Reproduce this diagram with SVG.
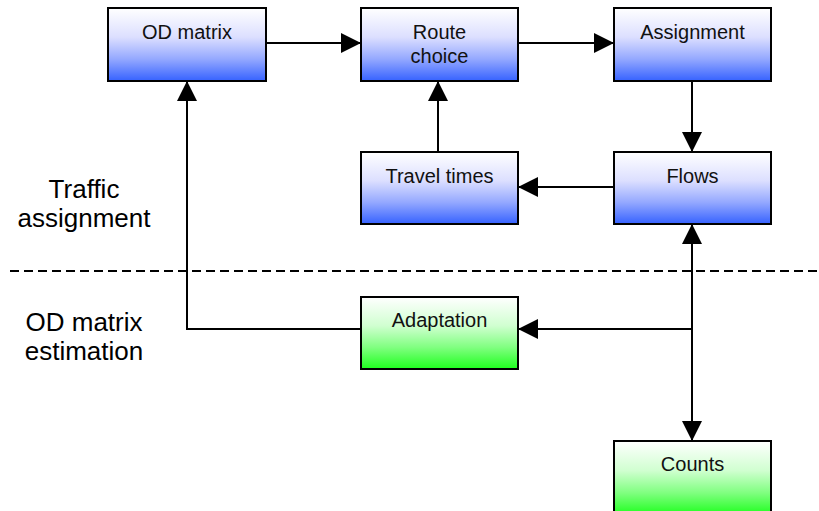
<svg xmlns="http://www.w3.org/2000/svg" width="819" height="511" viewBox="0 0 819 511">
  <defs>
    <linearGradient id="blueFill" x1="0" y1="0" x2="0" y2="1">
      <stop offset="0" stop-color="#ffffff"/>
      <stop offset="0.4" stop-color="#dcdfff"/>
      <stop offset="0.7" stop-color="#94a8ff"/>
      <stop offset="1" stop-color="#3662ff"/>
    </linearGradient>
    <linearGradient id="greenFill" x1="0" y1="0" x2="0" y2="1">
      <stop offset="0" stop-color="#ffffff"/>
      <stop offset="0.4" stop-color="#d0ffd0"/>
      <stop offset="0.7" stop-color="#80ff80"/>
      <stop offset="1" stop-color="#1eff1e"/>
    </linearGradient>
    <marker id="arrowEnd" markerUnits="userSpaceOnUse" markerWidth="22" markerHeight="22" refX="20" refY="10" orient="auto">
      <path d="M0,0 L20,10 L0,20 Z" fill="#000"/>
    </marker>
    <marker id="arrowStart" markerUnits="userSpaceOnUse" markerWidth="22" markerHeight="22" refX="0" refY="10" orient="auto">
      <path d="M20,0 L0,10 L20,20 Z" fill="#000"/>
    </marker>
  </defs>
  <style>
    .box { stroke: #000; stroke-width: 2; }
    .blue { fill: url(#blueFill); }
    .green { fill: url(#greenFill); }
    .label { font-family: "Liberation Sans", Arial, sans-serif; font-size: 20px; fill: #111; text-anchor: middle; }
    .side { font-family: "Liberation Sans", Arial, sans-serif; font-size: 26px; fill: #000; text-anchor: middle; }
    .conn { fill: none; stroke: #000; stroke-width: 2; }
    .divider { stroke: #000; stroke-width: 2; stroke-dasharray: 9 5; }
  </style>

  <rect width="819" height="511" fill="#fff"/>

  <!-- section divider and section titles -->
  <line class="divider" x1="10" y1="271" x2="819" y2="271"/>
  <text class="side" x="84" y="198">Traffic</text>
  <text class="side" x="84" y="227">assignment</text>
  <text class="side" x="84" y="331">OD matrix</text>
  <text class="side" x="84" y="360">estimation</text>

  <g id="connectors">
    <path class="conn" d="M266,43 H361" marker-end="url(#arrowEnd)"/>
    <path class="conn" d="M518,43 H614" marker-end="url(#arrowEnd)"/>
    <path class="conn" d="M692,81 V152" marker-end="url(#arrowEnd)"/>
    <path class="conn" d="M614,187 H518" marker-end="url(#arrowEnd)"/>
    <path class="conn" d="M438,152 V81" marker-end="url(#arrowEnd)"/>
    <path class="conn" d="M692,224 V441" marker-start="url(#arrowStart)" marker-end="url(#arrowEnd)"/>
    <path class="conn" d="M692,329 H518" marker-end="url(#arrowEnd)"/>
    <path class="conn" d="M361,329 H187 V81" marker-end="url(#arrowEnd)"/>
  </g>

  <g id="od-matrix">
    <rect class="box blue" x="108" y="8" width="158" height="73"/>
    <text class="label" x="187" y="39">OD matrix</text>
  </g>
  <g id="route-choice">
    <rect class="box blue" x="361" y="8" width="157" height="73"/>
    <text class="label" x="439.5" y="39">Route</text>
    <text class="label" x="439.5" y="63">choice</text>
  </g>
  <g id="assignment">
    <rect class="box blue" x="614" y="8" width="157" height="73"/>
    <text class="label" x="692.5" y="39">Assignment</text>
  </g>
  <g id="travel-times">
    <rect class="box blue" x="361" y="152" width="157" height="72"/>
    <text class="label" x="439.5" y="183">Travel times</text>
  </g>
  <g id="flows">
    <rect class="box blue" x="614" y="152" width="157" height="72"/>
    <text class="label" x="692.5" y="183">Flows</text>
  </g>
  <g id="adaptation">
    <rect class="box green" x="361" y="297" width="157" height="72"/>
    <text class="label" x="439.5" y="327">Adaptation</text>
  </g>
  <g id="counts">
    <rect class="box green" x="614" y="441" width="157" height="74"/>
    <text class="label" x="692.5" y="471">Counts</text>
  </g>
</svg>
